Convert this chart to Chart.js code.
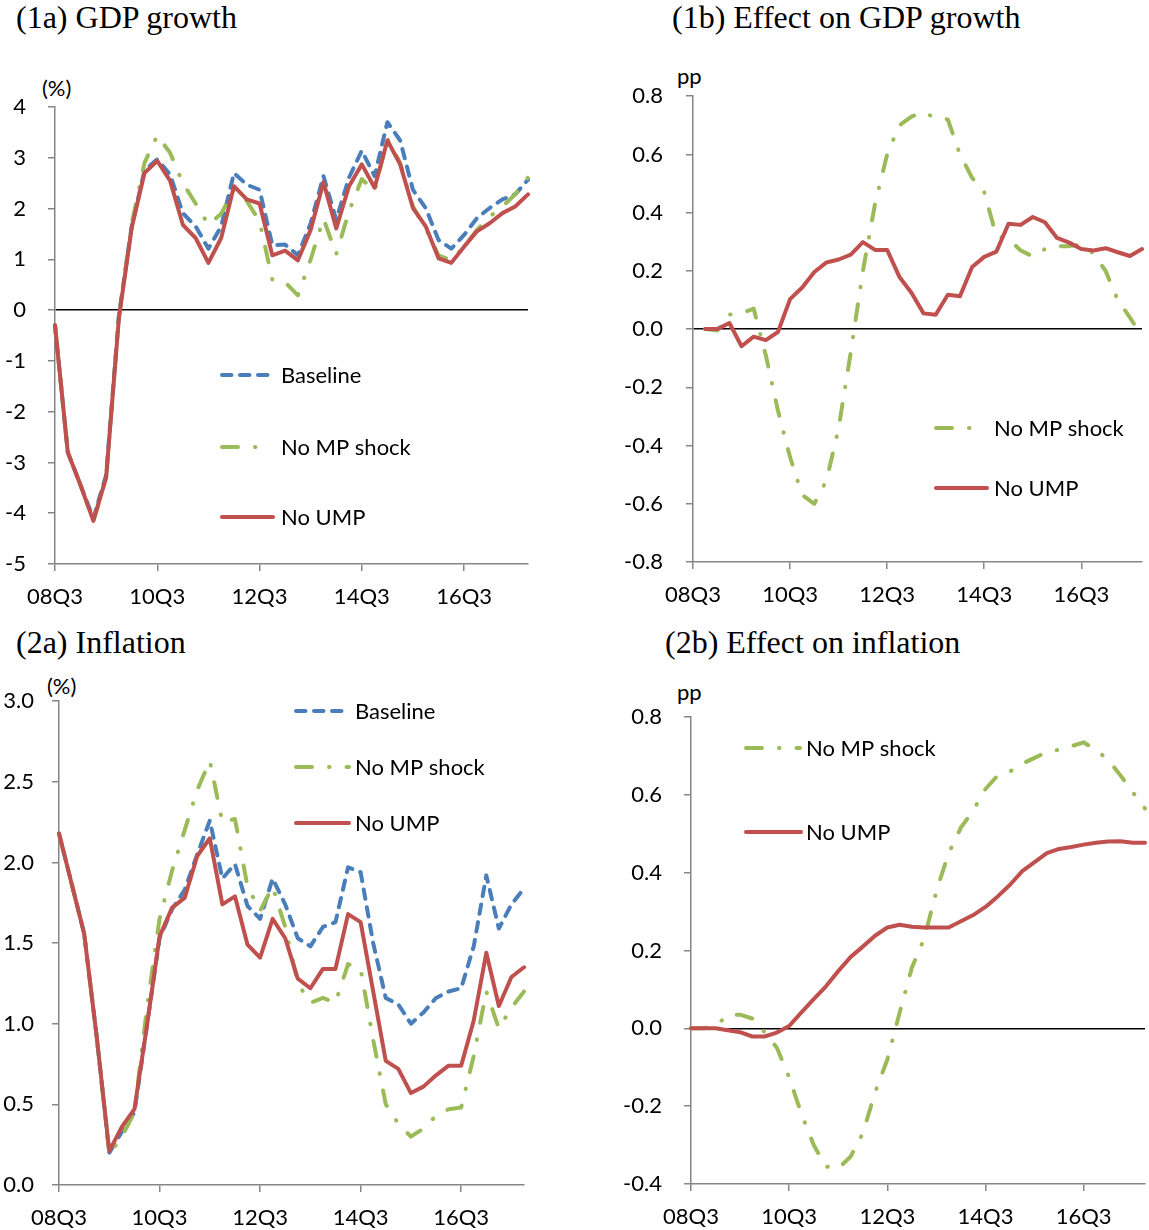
<!DOCTYPE html>
<html lang="en">
<head>
<meta charset="UTF-8">
<title>GDP growth and inflation: effect of UMP</title>
<script src="https://cdn.jsdelivr.net/npm/chart.js@4.4.0/dist/chart.umd.min.js"></script>
<style>
    body { margin:0; background:#fff; width:1149px; height:1230px; position:relative; overflow:hidden; }
    .titolo { position:absolute; font-family:"Liberation Serif","Times New Roman",serif; font-size:32px; line-height:38px; color:#000; white-space:nowrap; }
    .unita { position:absolute; font-family:Lato, sans-serif; font-size:22px; line-height:26px; color:#000; }
    canvas { position:absolute; }
</style>
</head>
<body>

<div class="titolo" style="left:16px; top:-2px;">(1a) GDP growth</div>
<div class="titolo" style="left:672px; top:-2px;">(1b) Effect on GDP growth</div>
<div class="titolo" style="left:16px; top:623px;">(2a) Inflation</div>
<div class="titolo" style="left:665px; top:623px;">(2b) Effect on inflation</div>

<div class="unita" style="left:42px; top:75px;">(%)</div>
<div class="unita" style="left:677px; top:63px;">pp</div>
<div class="unita" style="left:47px; top:673px;">(%)</div>
<div class="unita" style="left:677px; top:679px;">pp</div>

<canvas id="c1a" width="545" height="560" style="left:0px; top:60px;"></canvas>
<canvas id="c1b" width="549" height="560" style="left:600px; top:60px;"></canvas>
<canvas id="c2a" width="545" height="560" style="left:0px; top:670px;"></canvas>
<canvas id="c2b" width="549" height="560" style="left:600px; top:670px;"></canvas>

<script>
// quarters 08Q3 .. 17Q4
const quarters = ['08Q3','08Q4','09Q1','09Q2','09Q3','09Q4','10Q1','10Q2',
                  '10Q3','10Q4','11Q1','11Q2','11Q3','11Q4','12Q1','12Q2',
                  '12Q3','12Q4','13Q1','13Q2','13Q3','13Q4','14Q1','14Q2',
                  '14Q3','14Q4','15Q1','15Q2','15Q3','15Q4','16Q1','16Q2',
                  '16Q3','16Q4','17Q1','17Q2','17Q3','17Q4'];

// (1a) GDP growth, %
const gdpBaseline = [-0.3, -2.8, -3.45, -4.1, -3.25, -0.1, 1.65, 2.75, 2.97, 2.67,
                     1.91, 1.65, 1.21, 1.65, 2.7, 2.47, 2.37, 1.28, 1.29, 1.08,
                     1.71, 2.64, 1.78, 2.61, 3.14, 2.64, 3.7, 3.34, 2.37, 2.01,
                     1.38, 1.21, 1.48, 1.81, 2.01, 2.18, 2.28, 2.57];
const gdpNoMP = [-0.3, -2.8, -3.45, -4.15, -3.3, -0.15, 1.7, 2.9, 3.44, 3.1,
                 2.5, 2.1, 1.68, 1.9, 2.37, 2.15, 1.75, 0.6, 0.55, 0.29,
                 1.0, 1.8, 1.1, 1.95, 2.58, 2.34, 3.37, 2.9, 2.04, 1.61,
                 1.08, 0.98, 1.25, 1.58, 1.84, 2.04, 2.28, 2.61];
const gdpNoUMP = [-0.3, -2.8, -3.45, -4.15, -3.3, -0.15, 1.62, 2.7, 2.94, 2.55,
                  1.68, 1.42, 0.93, 1.42, 2.44, 2.18, 2.1, 1.08, 1.17, 0.98,
                  1.58, 2.52, 1.61, 2.44, 2.87, 2.41, 3.34, 2.87, 2.01, 1.65,
                  1.02, 0.93, 1.25, 1.55, 1.71, 1.91, 2.04, 2.28];

// (1b) effect on GDP growth, pp
const gdpEffNoMP = [null, 0, -0.005, 0.05, 0.055, 0.07, -0.09, -0.28, -0.44, -0.57,
                    -0.6, -0.52, -0.34, -0.08, 0.2, 0.43, 0.6, 0.7, 0.73, 0.745,
                    0.725, 0.72, 0.6, 0.52, 0.47, 0.32, 0.31, 0.27, 0.25, 0.275,
                    0.285, 0.285, 0.29, 0.26, 0.2, 0.1, 0.04, -0.025];
const gdpEffNoUMP = [null, 0, 0, 0.021, -0.059, -0.026, -0.038, -0.01, 0.103, 0.143,
                     0.196, 0.229, 0.239, 0.256, 0.299, 0.272, 0.272, 0.18, 0.125, 0.054,
                     0.049, 0.118, 0.113, 0.213, 0.248, 0.266, 0.362, 0.358, 0.385, 0.367,
                     0.313, 0.297, 0.275, 0.27, 0.278, 0.264, 0.251, 0.275];

// (2a) inflation, %
const infBaseline = [2.18, 1.87, 1.56, 0.92, 0.2, 0.33, 0.45, 0.99, 1.53, 1.71,
                     1.83, 2.05, 2.26, 1.9, 1.99, 1.73, 1.65, 1.9, 1.74, 1.53,
                     1.48, 1.6, 1.63, 1.97, 1.94, 1.5, 1.16, 1.12, 1.0, 1.07,
                     1.16, 1.2, 1.22, 1.48, 1.92, 1.59, 1.74, 1.84];
const infNoMP = [2.18, 1.87, 1.56, 0.92, 0.19, 0.3, 0.45, 1.1, 1.65, 1.95,
                 2.2, 2.45, 2.63, 2.25, 2.27, 1.85, 1.7, 1.85, 1.6, 1.25,
                 1.13, 1.16, 1.13, 1.37, 1.34, 0.9, 0.5, 0.38, 0.3, 0.35,
                 0.43, 0.47, 0.48, 0.8, 1.2, 0.97, 1.1, 1.2];
const infNoUMP = [2.18, 1.87, 1.56, 0.92, 0.21, 0.36, 0.47, 0.99, 1.54, 1.72,
                  1.78, 2.04, 2.15, 1.74, 1.79, 1.49, 1.41, 1.65, 1.53, 1.28,
                  1.22, 1.34, 1.34, 1.68, 1.63, 1.2, 0.77, 0.72, 0.57, 0.61,
                  0.68, 0.74, 0.74, 1.02, 1.44, 1.11, 1.29, 1.35];

// (2b) effect on inflation, pp
const infEffNoMP = [0, 0, 0.005, 0.035, 0.035, 0.025, -0.01, -0.05, -0.126, -0.22,
                    -0.3, -0.355, -0.36, -0.33, -0.27, -0.165, -0.08, 0.04, 0.156, 0.23,
                    0.353, 0.45, 0.516, 0.56, 0.615, 0.65, 0.66, 0.68, 0.695, 0.71,
                    0.716, 0.725, 0.735, 0.715, 0.69, 0.65, 0.607, 0.565];
const infEffNoUMP = [0, 0, 0, -0.005, -0.01, -0.021, -0.021, -0.011, 0.006, 0.041,
                     0.075, 0.108, 0.147, 0.183, 0.21, 0.238, 0.259, 0.266, 0.261, 0.259,
                     0.259, 0.259, 0.275, 0.291, 0.312, 0.339, 0.369, 0.404, 0.427, 0.45,
                     0.461, 0.466, 0.472, 0.477, 0.48, 0.481, 0.477, 0.477];

const BLU = '#4a7ebb', VERDE = '#9bbb59', ROSSO = '#c0504d', GRIGIO = '#868686';
const FONT = 'Lato, "Open Sans", sans-serif';
const stili = {
    'Baseline':    { color: BLU,   dash: [9.5, 8.5],      order: 2 },
    'No MP shock': { color: VERDE, dash: [16, 17, 0.5, 17], order: 1 },
    'No UMP':      { color: ROSSO, dash: [],             order: 0 }
};

function serie(label, data) {
    const s = stili[label];
    return {
        label: label, data: data, order: s.order,
        borderColor: s.color, borderWidth: 4, borderDash: s.dash,
        borderCapStyle: 'round', borderJoinStyle: 'round',
        pointRadius: 0, pointHoverRadius: 0, tension: 0, fill: false
    };
}

// legend drawn inside the plot area, like the original
const legendaPannello = {
    id: 'legendaPannello',
    afterDraw(chart, args, opts) {
        const ctx = chart.ctx;
        opts.items.forEach(it => {
            const s = stili[it.label];
            const y = it.y - opts.oy;
            ctx.save();
            ctx.strokeStyle = s.color;
            ctx.lineWidth = 4;
            ctx.lineCap = 'round';
            ctx.setLineDash(s.dash);
            ctx.beginPath();
            ctx.moveTo(it.x0 - opts.ox, y);
            ctx.lineTo(it.x1 - opts.ox, y);
            ctx.stroke();
            ctx.setLineDash([]);
            ctx.fillStyle = '#000';
            ctx.font = '22px ' + FONT;
            ctx.textBaseline = 'middle';
            ctx.fillText(it.label, it.tx - opts.ox, y + 1);
            ctx.restore();
        });
    }
};

function pannello(id, p) {
    const ctx = document.getElementById(id).getContext('2d');
    return new Chart(ctx, {
        type: 'line',
        data: { labels: quarters, datasets: p.datasets },
        plugins: [legendaPannello],
        options: {
            responsive: false,
            animation: false,
            layout: { padding: { left: 0, top: p.padTop, right: p.padRight, bottom: 0 } },
            plugins: {
                legend: { display: false },
                tooltip: { enabled: false },
                legendaPannello: { items: p.legenda, ox: p.ox, oy: p.oy }
            },
            scales: {
                x: {
                    type: 'category',
                    offset: false,
                    afterFit: s => { s.height = p.xH; s.paddingLeft = 0; s.paddingRight = 0; },
                    border: { display: true, color: GRIGIO, width: 1.5 },
                    grid: {
                        drawOnChartArea: false,
                        tickLength: 7,
                        lineWidth: 1.5,
                        color: c => c.index % 8 === 0 ? GRIGIO : 'rgba(0,0,0,0)',
                        tickColor: c => c.index % 8 === 0 ? GRIGIO : 'rgba(0,0,0,0)'
                    },
                    ticks: {
                        autoSkip: false, maxRotation: 0, minRotation: 0, padding: 13,
                        color: '#000', font: { family: FONT, size: 22 },
                        callback: function (v, i) { return i % 8 === 0 ? this.getLabelForValue(v) : ''; }
                    }
                },
                y: {
                    min: p.min, max: p.max,
                    afterFit: s => { s.width = p.yW; },
                    border: { display: true, color: GRIGIO, width: 1.5 },
                    grid: {
                        tickLength: 7,
                        lineWidth: 1.5,
                        color: c => (p.zero && c.tick && Math.abs(c.tick.value) < 1e-9) ? '#000' : 'rgba(0,0,0,0)',
                        tickColor: GRIGIO
                    },
                    ticks: {
                        stepSize: p.step, padding: p.yPad,
                        color: '#000', font: { family: FONT, size: 22 },
                        callback: v => {
                            const n = Math.abs(v) < 1e-9 ? 0 : v;
                            return n.toFixed(p.dec);
                        }
                    }
                }
            }
        }
    });
}

pannello('c1a', {
    datasets: [serie('Baseline', gdpBaseline), serie('No MP shock', gdpNoMP), serie('No UMP', gdpNoUMP)],
    min: -5, max: 4, step: 1, dec: 0, zero: true,
    yW: 55, xH: 56, padTop: 47, padRight: 17, yPad: 22, ox: 0, oy: 60,
    legenda: [
        { label: 'Baseline',    x0: 222, x1: 270, tx: 281, y: 375 },
        { label: 'No MP shock', x0: 222, x1: 257, tx: 281, y: 447 },
        { label: 'No UMP',      x0: 222, x1: 273, tx: 281, y: 517 }
    ]
});

pannello('c1b', {
    datasets: [serie('No MP shock', gdpEffNoMP), serie('No UMP', gdpEffNoUMP)],
    min: -0.8, max: 0.8, step: 0.2, dec: 1, zero: true,
    yW: 93, xH: 58, padTop: 35, padRight: 7, yPad: 23, ox: 600, oy: 60,
    legenda: [
        { label: 'No MP shock', x0: 936, x1: 971, tx: 994, y: 428 },
        { label: 'No UMP',      x0: 936, x1: 987, tx: 994, y: 488 }
    ]
});

pannello('c2a', {
    datasets: [serie('Baseline', infBaseline), serie('No MP shock', infNoMP), serie('No UMP', infNoUMP)],
    min: 0, max: 3, step: 0.5, dec: 1, zero: false,
    yW: 59, xH: 45, padTop: 27, padRight: 21, yPad: 18, ox: 0, oy: 670,
    legenda: [
        { label: 'Baseline',    x0: 296, x1: 345, tx: 355, y: 711 },
        { label: 'No MP shock', x0: 296, x1: 349, tx: 355, y: 767 },
        { label: 'No UMP',      x0: 296, x1: 349, tx: 355, y: 823 }
    ]
});

pannello('c2b', {
    datasets: [serie('No MP shock', infEffNoMP), serie('No UMP', infEffNoUMP)],
    min: -0.4, max: 0.8, step: 0.2, dec: 1, zero: true,
    yW: 91, xH: 46, padTop: 47, padRight: 4, yPad: 22, ox: 600, oy: 670,
    legenda: [
        { label: 'No MP shock', x0: 746, x1: 800, tx: 806, y: 748 },
        { label: 'No UMP',      x0: 746, x1: 801, tx: 806, y: 832 }
    ]
});
</script>
</body>
</html>
